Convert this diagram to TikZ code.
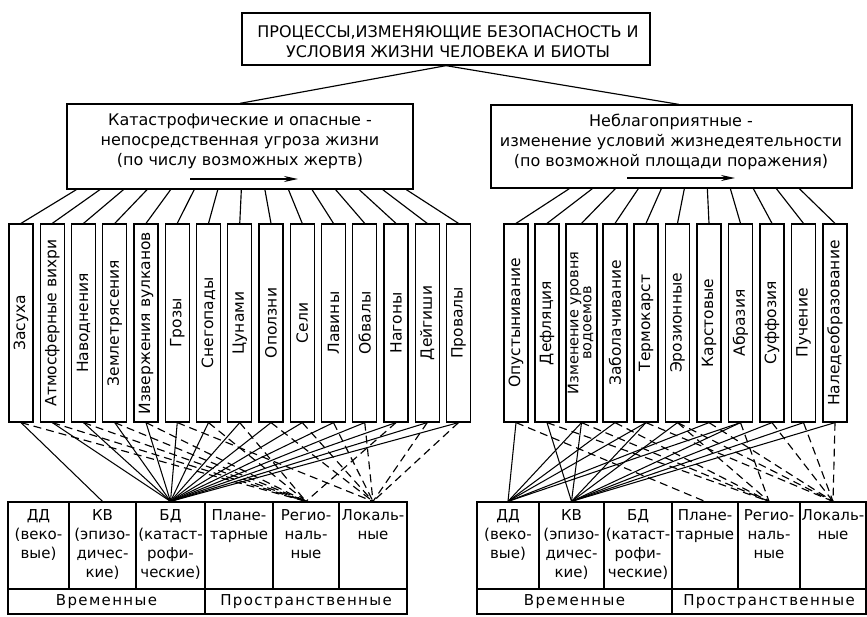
\documentclass[tikz,border=0pt]{standalone}
\usepackage{fontspec}
\setmainfont{DejaVu Sans}
\newfontfamily\spacedfont[LetterSpace=9]{DejaVu Sans}
\usetikzlibrary{arrows.meta,calc}
\begin{document}
\begin{tikzpicture}[x=1pt,y=-1pt,
  every node/.style={font=\fontsize{16}{20}\selectfont},
  box/.style={draw,line width=1.3pt,inner sep=0pt},
  vbox/.style={draw,line width=1.2pt,minimum width=24pt,minimum height=198pt,inner sep=0pt,font=\fontsize{15.5}{14}\selectfont},
  tcell/.style={draw,line width=1.2pt,inner sep=0pt},
  ctext/.style={align=center,inner sep=0pt,font=\fontsize{15}{19}\selectfont},
  btext/.style={inner sep=0pt,font=\fontsize{15}{19}\spacedfont},
  link/.style={line width=1.05pt},
  dlink/.style={line width=1.15pt,dash pattern=on 8pt off 5pt},
  fan/.style={line width=1.15pt},
  dirarrow/.style={line width=1.2pt,-{Stealth[length=14pt,width=6pt]}}
]
\useasboundingbox (0,0) rectangle (867,616);

% top box
\node[box,minimum width=408pt,minimum height=52pt] (top) at (446,39) {};
\node[align=center,anchor=north,inner sep=0pt] (toptext) at (448,25)
  {ПРОЦЕССЫ,ИЗМЕНЯЮЩИЕ БЕЗОПАСНОСТЬ И\\УСЛОВИЯ ЖИЗНИ ЧЕЛОВЕКА И БИОТЫ};

% category boxes
\node[box,minimum width=346pt,minimum height=85pt] (catL) at (240,146.5) {};
\node[align=center,anchor=north,inner sep=0pt] (catLt) at (240,114)
  {Катастрофические и опасные -\\непосредственная угроза жизни\\(по числу возможных жертв)};
\coordinate (aL1) at (190,179);
\coordinate (aL2) at (298,179);
\draw[dirarrow] (aL1) -- (aL2);

\node[box,minimum width=361pt,minimum height=83pt] (catR) at (671.5,146.5) {};
\node[align=center,anchor=north,inner sep=0pt] (catRt) at (671,114)
  {Неблагоприятные -\\изменение условий жизнедеятельности\\(по возможной площади поражения)};
\coordinate (aR1) at (627,178);
\coordinate (aR2) at (735,178);
\draw[dirarrow] (aR1) -- (aR2);

\draw[fan] (top.south) -- (catL.north);
\draw[fan] (top.south) -- ($(catR.north west)!0.52!(catR.north east)$);

% left vertical boxes
\foreach \t [count=\i] in {Засуха,Атмосферные вихри,Наводнения,Землетрясения,Извержения вулканов,Грозы,Снегопады,Цунами,Оползни,Сели,Лавины,Обвалы,Нагоны,Дейгиши,Провалы}
  \node[vbox] (L\i) at ({21+31.25*(\i-1)},323) {\rotatebox{90}{\t}};

% right vertical boxes
\node[vbox] (R1) at (516,323) {\rotatebox{90}{Опустынивание}};
\node[vbox] (R2) at (547,323) {\rotatebox{90}{Дефляция}};
\node[vbox,minimum width=31pt] (R3) at (581.5,323)
  {\rotatebox{90}{\fontsize{14.5}{13}\selectfont\begin{tabular}{@{}c@{}}Изменение уровня\\водоемов\end{tabular}}};
\foreach \t/\xx [count=\j from 4] in {Заболачивание/615,Термокарст/646,Эрозионные/677.5,Карстовые/709,Абразия/740.5,Суффозия/772,Пучение/803.5,Наледеобразование/835}
  \node[vbox] (R\j) at (\xx,323) {\rotatebox{90}{\t}};

% fan lines from category boxes
\foreach \i in {1,...,15}
  \draw[fan] ($(catL.south west)+({10+(\i-1)*23.57},0)$) -- (L\i.north);
\foreach \i in {1,...,11}
  \draw[fan] ($(catR.south west)+({79+(\i-1)*23},0)$) -- (R\i.north);

% left table
\node[tcell,minimum width=61pt,minimum height=87pt] (lDD) at (38.5,545.5) {};
\node[tcell,minimum width=67pt,minimum height=87pt] (lKV) at (102.5,545.5) {};
\node[tcell,minimum width=69pt,minimum height=87pt] (lBD) at (170.5,545.5) {};
\node[tcell,minimum width=68pt,minimum height=87pt] (lPL) at (239,545.5) {};
\node[tcell,minimum width=66pt,minimum height=87pt] (lREG) at (306,545.5) {};
\node[tcell,minimum width=68pt,minimum height=87pt] (lLOC) at (373,545.5) {};
\node[tcell,minimum width=197pt,minimum height=25pt] (lTIME) at (106.5,601.5) {};
\node[tcell,minimum width=202pt,minimum height=25pt] (lSPACE) at (306,601.5) {};
\node[ctext,anchor=north] (lDDt) at (38.5,509) {ДД\\(веко-\\вые)};
\node[ctext,anchor=north] (lKVt) at (102.5,509) {КВ\\(эпизо-\\дичес-\\кие)};
\node[ctext,anchor=north] (lBDt) at (170.5,509) {БД\\(катаст-\\рофи-\\ческие)};
\node[ctext,anchor=north] (lPLt) at (239,509) {Плане-\\тарные};
\node[ctext,anchor=north] (lREGt) at (306,509) {Регио-\\наль-\\ные};
\node[ctext,anchor=north] (lLOCt) at (373,509) {Локаль-\\ные};
\node[btext] (lTIMEt) at (106.5,602) {Временные};
\node[btext] (lSPACEt) at (306,602) {Пространственные};

% right table
\node[tcell,minimum width=62pt,minimum height=87pt] (rDD) at (508,545.5) {};
\node[tcell,minimum width=65pt,minimum height=87pt] (rKV) at (571.5,545.5) {};
\node[tcell,minimum width=68pt,minimum height=87pt] (rBD) at (638,545.5) {};
\node[tcell,minimum width=66pt,minimum height=87pt] (rPL) at (705,545.5) {};
\node[tcell,minimum width=62pt,minimum height=87pt] (rREG) at (769,545.5) {};
\node[tcell,minimum width=66pt,minimum height=87pt] (rLOC) at (833,545.5) {};
\node[tcell,minimum width=195pt,minimum height=25pt] (rTIME) at (574.5,601.5) {};
\node[tcell,minimum width=194pt,minimum height=25pt] (rSPACE) at (769,601.5) {};
\node[ctext,anchor=north] (rDDt) at (508,509) {ДД\\(веко-\\вые)};
\node[ctext,anchor=north] (rKVt) at (571.5,509) {КВ\\(эпизо-\\дичес-\\кие)};
\node[ctext,anchor=north] (rBDt) at (638,509) {БД\\(катаст-\\рофи-\\ческие)};
\node[ctext,anchor=north] (rPLt) at (705,509) {Плане-\\тарные};
\node[ctext,anchor=north] (rREGt) at (769,509) {Регио-\\наль-\\ные};
\node[ctext,anchor=north] (rLOCt) at (833,509) {Локаль-\\ные};
\node[btext] (rTIMEt) at (574.5,602) {Временные};
\node[btext] (rSPACEt) at (769,602) {Пространственные};

% left connectors
\draw[link] (L1.south) -- (lKV.north);
\foreach \i in {2,...,15} \draw[link] (L\i.south) -- (lBD.north);
\foreach \i in {1,2,3,4,5,7,8,13} \draw[dlink] (L\i.south) -- (lREG.north);
\foreach \i in {6,9,10,11,12,14,15} \draw[dlink] (L\i.south) -- (lLOC.north);

% right connectors
\foreach \i in {1,3,4,5,7,8} \draw[link] (R\i.south) -- (rDD.north);
\foreach \i in {2,3,5,6,8,9,10,11} \draw[link] (R\i.south) -- (rKV.north);
\draw[dlink] (R1.south) -- (rPL.north);
\foreach \i in {2,3,4,6,8} \draw[dlink] (R\i.south) -- (rREG.north);
\foreach \i in {5,6,7,9,10,11} \draw[dlink] (R\i.south) -- (rLOC.north);
\end{tikzpicture}
\end{document}
